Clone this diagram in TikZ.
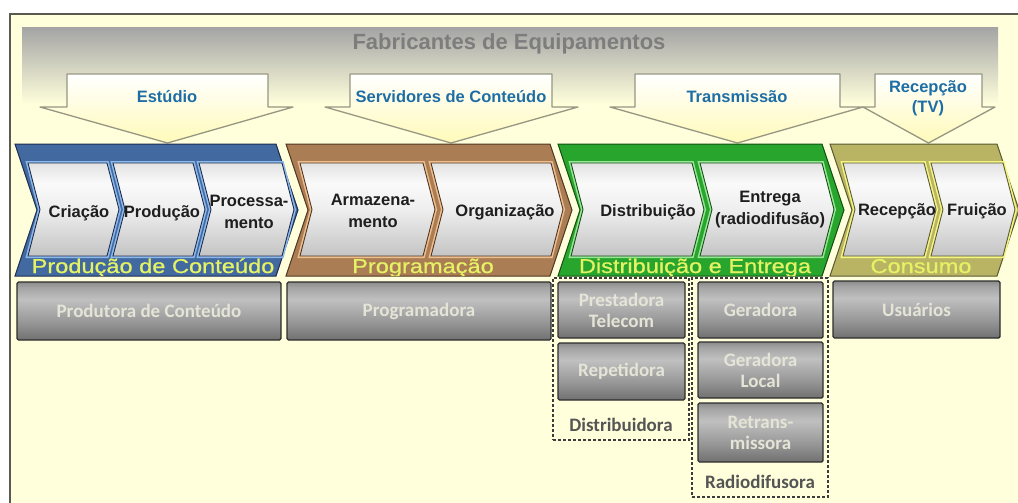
\documentclass[tikz,border=0pt]{standalone}
\usepackage{fontspec}
\setmainfont{Liberation Sans}
\newfontfamily\bandfont[FakeStretch=1.18,FakeBold=0.8]{Liberation Sans}
\newfontfamily\calfont{Carlito}
\definecolor{bg}{RGB}{255,255,220}
\definecolor{framecol}{RGB}{90,90,80}
\definecolor{hdrgray}{RGB}{165,165,165}
\definecolor{titlegray}{RGB}{125,125,125}
\definecolor{arrblue}{RGB}{30,110,165}
\definecolor{arredge}{RGB}{150,150,130}
\definecolor{arrbottom}{RGB}{255,250,185}
\definecolor{blueband}{RGB}{66,106,160}
\definecolor{blueedge}{RGB}{30,45,80}
\definecolor{bluelight}{RGB}{140,185,235}
\definecolor{brownband}{RGB}{170,125,85}
\definecolor{brownedge}{RGB}{80,55,35}
\definecolor{brownlight}{RGB}{240,190,140}
\definecolor{greenband}{RGB}{40,165,45}
\definecolor{greenedge}{RGB}{20,80,20}
\definecolor{greenlight}{RGB}{150,230,150}
\definecolor{oliveband}{RGB}{185,180,100}
\definecolor{oliveedge}{RGB}{90,90,50}
\definecolor{olivelight}{RGB}{245,245,130}
\definecolor{lblyellow}{RGB}{228,242,100}
\definecolor{chevtext}{RGB}{30,30,30}
\definecolor{boxedge}{RGB}{45,45,45}
\definecolor{boxtext}{RGB}{228,228,215}
\definecolor{grouptext}{RGB}{85,85,85}
\definecolor{dashcol}{RGB}{60,60,60}
\definecolor{gA}{RGB}{112,112,112}
\definecolor{gB}{RGB}{150,150,150}
\definecolor{gC}{RGB}{192,192,192}
\definecolor{gD}{RGB}{165,165,165}
\definecolor{gE}{RGB}{140,140,140}
\definecolor{cA}{RGB}{196,196,196}
\definecolor{cB}{RGB}{238,238,238}
\definecolor{cC}{RGB}{250,250,250}
\definecolor{cD}{RGB}{226,226,226}
\pgfdeclareverticalshading{glass}{100bp}{color(0bp)=(gA); color(25bp)=(gA); color(40bp)=(gB); color(60bp)=(gC); color(70bp)=(gD); color(75bp)=(gE); color(100bp)=(gE)}
\pgfdeclareverticalshading{chevfill}{100bp}{color(0bp)=(cA); color(25bp)=(cA); color(50bp)=(cB); color(64bp)=(cC); color(75bp)=(cD); color(100bp)=(cD)}
\newcommand{\chevshape}[6][]{\path[#1] (#2,#4) -- (#3,#4) -- ({#3+#6},{(#4+#5)/2}) -- (#3,#5) -- (#2,#5) -- ({#2+#6},{(#4+#5)/2}) -- cycle;}
\newcommand{\innerchev}[4]{%
  \chevshape[draw=#3, line width=4pt]{#1}{#2}{163}{256}{12}%
  \chevshape[shade, shading=chevfill, draw=#4, line width=0.9pt]{#1}{#2}{163}{256}{12}}
\newcommand{\downarr}[5]{% box x1, box x2, wing x1, wing x2, tip x
  \path[draw=arredge, line width=1.3pt, top color=white, bottom color=arrbottom, line join=round]
   (#1,74) -- (#2,74) -- (#2,107) -- (#4,107) -- (#5,143) -- (#3,107) -- (#1,107) -- cycle;}
\begin{document}
\begin{tikzpicture}[x=1pt,y=-1pt,
  every node/.style={inner sep=0pt, outer sep=0pt},
  arrlbl/.style={font=\fontsize{16.5}{20}\selectfont\bfseries, text=arrblue, align=center},
  chevtxt/.style={font=\fontsize{16.5}{22}\selectfont\bfseries, text=chevtext, align=center},
  bandlbl/.style={font=\bandfont\fontsize{20}{22}\selectfont, text=lblyellow, anchor=base},
  graybox/.style={draw=boxedge, line width=1.4pt, shade, shading=glass, rounded corners=1.5pt, anchor=north west,
     font=\calfont\bfseries\fontsize{19}{21}\selectfont, text=boxtext, align=center},
  grouplbl/.style={font=\calfont\bfseries\fontsize{19}{21}\selectfont, text=grouptext},
  groupbox/.style={draw=dashcol, line width=1.6pt, dash pattern=on 3pt off 2pt, anchor=north west}
]
\useasboundingbox (0,0) rectangle (1018,503);
% background and frame
\fill[white] (0,0) rectangle (1018,503);
\fill[bg] (10,14) rectangle (1018,503);
\draw[framecol, line width=1.5pt] (10,503) -- (10,14) -- (1018,14);
% header band
\shade[top color=hdrgray, bottom color=bg] (22,28) rectangle (998,104);
\node[font=\fontsize{22}{24}\selectfont\bfseries, text=titlegray] (title) at (509,44) {Fabricantes de Equipamentos};
% down arrows
\downarr{67}{268}{40}{293}{167.5}
\downarr{350}{552}{325}{578}{451}
\downarr{635}{840}{610}{863}{737.5}
\downarr{875}{982}{863}{995}{928.5}
\node[arrlbl] (estudio) at (167,97) {Estúdio};
\node[arrlbl] (servidores) at (451,97) {Servidores de Conteúdo};
\node[arrlbl] (transmissao) at (737,97) {Transmissão};
\node[arrlbl] (recepcaotv) at (928,98) {Recepção\\(TV)};
% bands
\chevshape[fill=blueband, draw=blueedge, line width=1pt]{15}{276}{144}{276}{22}
\chevshape[fill=brownband, draw=brownedge, line width=1pt]{286}{550}{144}{276}{22}
\chevshape[fill=greenband, draw=greenedge, line width=1pt]{558}{822}{144}{276}{22}
\chevshape[fill=oliveband, draw=oliveedge, line width=1pt]{830}{997}{144}{276}{22}
% inner chevrons
\innerchev{28}{107}{bluelight}{blueedge}
\innerchev{113}{193}{bluelight}{blueedge}
\innerchev{199}{282}{bluelight}{blueedge}
\innerchev{300}{423}{brownlight}{brownedge}
\innerchev{431}{551}{brownlight}{brownedge}
\innerchev{571}{692}{greenlight}{greenedge}
\innerchev{700}{822}{greenlight}{greenedge}
\innerchev{843}{924}{olivelight}{oliveedge}
\innerchev{931}{1003}{olivelight}{oliveedge}
% inner texts
\node[chevtxt] (criacao) at (79,213) {Criação};
\node[chevtxt] (producao) at (162,213) {Produção};
\node[chevtxt] (processamento) at (249,212) {Processa-\\mento};
\node[chevtxt] (armazenamento) at (373,211) {Armazena-\\mento};
\node[chevtxt] (organizacao) at (505,212) {Organização};
\node[chevtxt] (distribuicao) at (648,212) {Distribuição};
\node[chevtxt] (entrega) at (770,210) {Entrega\\(radiodifusão)};
\node[chevtxt] (recepcao) at (897,211) {Recepção};
\node[chevtxt] (fruicao) at (977,211) {Fruição};
% band labels (clipped to the bands)
\begin{scope}
\chevshape[clip]{15}{276}{144}{276}{22}
\node[bandlbl] (lblprod) at (153,273) {Produção de Conteúdo};
\end{scope}
\begin{scope}
\chevshape[clip]{286}{550}{144}{276}{22}
\node[bandlbl] (lblprog) at (423,273) {Programação};
\end{scope}
\begin{scope}
\chevshape[clip]{558}{822}{144}{276}{22}
\node[bandlbl] (lbldist) at (695,273) {Distribuição e Entrega};
\end{scope}
\begin{scope}
\chevshape[clip]{830}{997}{144}{276}{22}
\node[bandlbl] (lblcons) at (921,273) {Consumo};
\end{scope}
% dashed group boxes
\node[groupbox, minimum width=136, minimum height=162] (distgroup) at (553,278) {};
\node[groupbox, minimum width=136, minimum height=219] (radgroup) at (692,278) {};
\node[grouplbl] (distlbl) at (621,425) {Distribuidora};
\node[grouplbl] (radlbl) at (760,482) {Radiodifusora};
% gray boxes
\node[graybox, minimum width=264, minimum height=58] (produtora) at (17,282) {Produtora de Conteúdo};
\node[graybox, minimum width=264, minimum height=58] (programadora) at (287,282) {Programadora};
\node[graybox, minimum width=127, minimum height=56] (prestadora) at (558,282) {Prestadora\\Telecom};
\node[graybox, minimum width=127, minimum height=57] (repetidora) at (558,343) {Repetidora};
\node[graybox, minimum width=125, minimum height=56] (geradora) at (698,282) {Geradora};
\node[graybox, minimum width=125, minimum height=56] (geradoralocal) at (698,342) {Geradora\\Local};
\node[graybox, minimum width=125, minimum height=59] (retrans) at (698,403) {Retrans-\\missora};
\node[graybox, minimum width=167, minimum height=57] (usuarios) at (833,281) {Usuários};
\end{tikzpicture}
\end{document}
